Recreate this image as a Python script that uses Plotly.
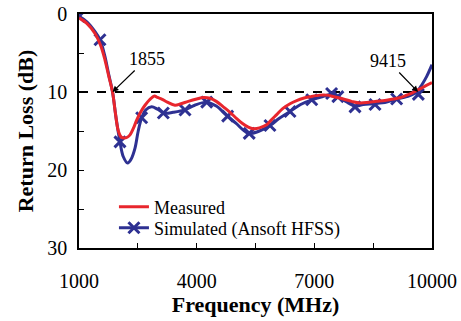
import plotly.graph_objects as go

# Measured return loss (dB) vs frequency (MHz)
meas_f = [1000, 1200, 1408, 1550, 1663, 1760, 1855, 1930, 2003, 2080, 2150, 2230, 2300, 2400,
          2470, 2580, 2683, 2800, 2920, 3000, 3108, 3250, 3447, 3600, 3787, 4000, 4170, 4340,
          4500, 4679, 4850, 5020, 5160, 5316, 5444, 5600, 5784, 5900, 6040, 6200, 6380, 6550,
          6719, 6900, 7144, 7315, 7500, 7739, 7950, 8164, 8400, 8590, 8800, 9014, 9200, 9355,
          9500, 9610, 9800, 10000]
meas_db = [0.5, 1.2, 2.5, 4.0, 5.9, 8.0, 10.0, 12.8, 15.0, 15.8, 15.9, 15.8, 15.5, 14.5,
           13.6, 12.5, 11.7, 11.0, 10.5, 10.7, 10.9, 11.3, 11.7, 11.5, 11.2, 10.9, 10.7, 10.8,
           11.2, 11.9, 12.6, 13.4, 14.0, 14.5, 14.7, 14.6, 14.2, 13.6, 12.9, 12.1, 11.5, 11.1,
           10.8, 10.6, 10.4, 10.4, 10.6, 10.9, 11.2, 11.4, 11.3, 11.2, 11.1, 10.9, 10.7, 10.4,
           10.1, 9.8, 9.3, 8.8]

# Simulated (Ansoft HFSS) curve
sim_f = [1000, 1200, 1400, 1535, 1650, 1760, 1855, 1950, 2045, 2130, 2240, 2330, 2428, 2510,
         2598, 2700, 2853, 3000, 3175, 3400, 3702, 3950, 4256, 4500, 4765, 5000, 5274, 5401,
         5600, 5869, 6100, 6380, 6650, 6933, 7200, 7440, 7600, 7800, 8037, 8250, 8547, 8845,
         9099, 9355, 9610, 9750, 9865, 10000]
sim_db = [0.3, 1.0, 2.2, 3.3, 5.2, 7.8, 10.0, 13.5, 16.4, 18.3, 19.1, 18.6, 17.2, 15.0,
          13.3, 12.3, 11.9, 12.2, 12.7, 12.6, 12.3, 11.7, 11.3, 11.8, 13.0, 14.0, 15.2, 15.3,
          15.0, 14.3, 13.4, 12.5, 11.6, 11.0, 10.6, 10.3, 10.6, 11.2, 11.8, 11.6, 11.5, 11.3,
          10.9, 10.6, 10.0, 9.0, 8.0, 6.5]

# Simulated marker positions
sim_mark_f = [1000, 1535, 2045, 2598, 3150, 3703, 4256, 4790, 5340, 5869, 6380, 6933, 7440,
              7600, 8037, 8547, 9099, 9652]
sim_mark_db = [0.3, 3.3, 16.4, 13.3, 12.7, 12.3, 11.3, 13.1, 15.3, 14.3, 12.5, 11.0, 10.2,
               10.6, 11.9, 11.6, 10.9, 10.3]

x_tickvals = [1000, 2500, 4000, 5500, 7000, 8500, 10000]
x_ticktext = ["1000", "", "4000", "", "7000", "", "10000"]
y_tickvals = [0, 5, 10, 15, 20, 25, 30]
y_ticktext = ["0", "", "10", "", "20", "", "30"]

ref_level = 10
markers_note = [(1855, "1855"), (9645, "9415")]

RED = "#e8262d"
BLUE = "#2e3192"
FONT = "Liberation Serif"

fig = go.Figure()
fig.add_trace(go.Scatter(x=sim_f, y=sim_db, mode="lines", line=dict(color=BLUE, width=3, shape="spline"),
                         showlegend=False, hoverinfo="skip"))
fig.add_trace(go.Scatter(x=sim_mark_f, y=sim_mark_db, mode="markers",
                         marker=dict(symbol="x-thin", size=11, line=dict(color=BLUE, width=3)),
                         showlegend=False))
fig.add_trace(go.Scatter(x=meas_f, y=meas_db, mode="lines", name="Measured",
                         line=dict(color=RED, width=3, shape="spline"), legend="legend"))
fig.add_trace(go.Scatter(x=[None], y=[None], mode="lines+markers", name="Simulated (Ansoft HFSS)",
                         line=dict(color=BLUE, width=3), legend="legend2",
                         marker=dict(symbol="x-thin", size=11, line=dict(color=BLUE, width=3))))

fig.add_shape(type="line", xref="x", yref="y", x0=1000, x1=10000, y0=ref_level, y1=ref_level,
              line=dict(color="black", width=2, dash="dash"), layer="below")

offsets = {"1855": (34, -33), "9415": (-30, -31)}
for xv, txt in markers_note:
    ax, ay = offsets[txt]
    fig.add_annotation(x=xv, y=ref_level, text=txt, showarrow=True, arrowhead=2, arrowsize=1,
                       arrowwidth=1.2, arrowcolor="black", ax=ax, ay=ay,
                       font=dict(family=FONT, size=18, color="black"))

leg_common = dict(xanchor="left", yanchor="middle", bgcolor="rgba(0,0,0,0)",
                  font=dict(family=FONT, size=18, color="black"))
fig.update_layout(
    width=461, height=321,
    margin=dict(l=79, r=29, t=14, b=73, autoexpand=False),
    paper_bgcolor="white", plot_bgcolor="white",
    font=dict(family=FONT, color="black"),
    legend=dict(x=0.099, y=0.175, **leg_common),
    legend2=dict(x=0.099, y=0.0855, **leg_common),
)
fig.update_xaxes(range=[1000, 10000], tickvals=x_tickvals, ticktext=x_ticktext,
                 ticks="inside", ticklen=5, tickwidth=1, tickcolor="black", automargin=False,
                 showline=True, linecolor="black", linewidth=1.5, mirror=True, showgrid=False,
                 zeroline=False, tickfont=dict(family=FONT, size=20), ticklabelstandoff=14,
                 ticklabeloverflow="allow",
                 title=dict(text="<b>Frequency (MHz)</b>", font=dict(family=FONT, size=22), standoff=6))
fig.update_yaxes(range=[30, 0], tickvals=y_tickvals, ticktext=y_ticktext, automargin=False,
                 ticks="inside", ticklen=5, tickwidth=1, tickcolor="black",
                 showline=True, linecolor="black", linewidth=1.5, mirror=True, showgrid=False,
                 zeroline=False, tickfont=dict(family=FONT, size=20), ticklabelstandoff=6,
                 ticklabeloverflow="allow",
                 title=dict(text="<b>Return Loss (dB)</b>", font=dict(family=FONT, size=22), standoff=8))

fig.write_html("out.html", config={"displayModeBar": False},
               post_script="document.body.style.margin='0';")
